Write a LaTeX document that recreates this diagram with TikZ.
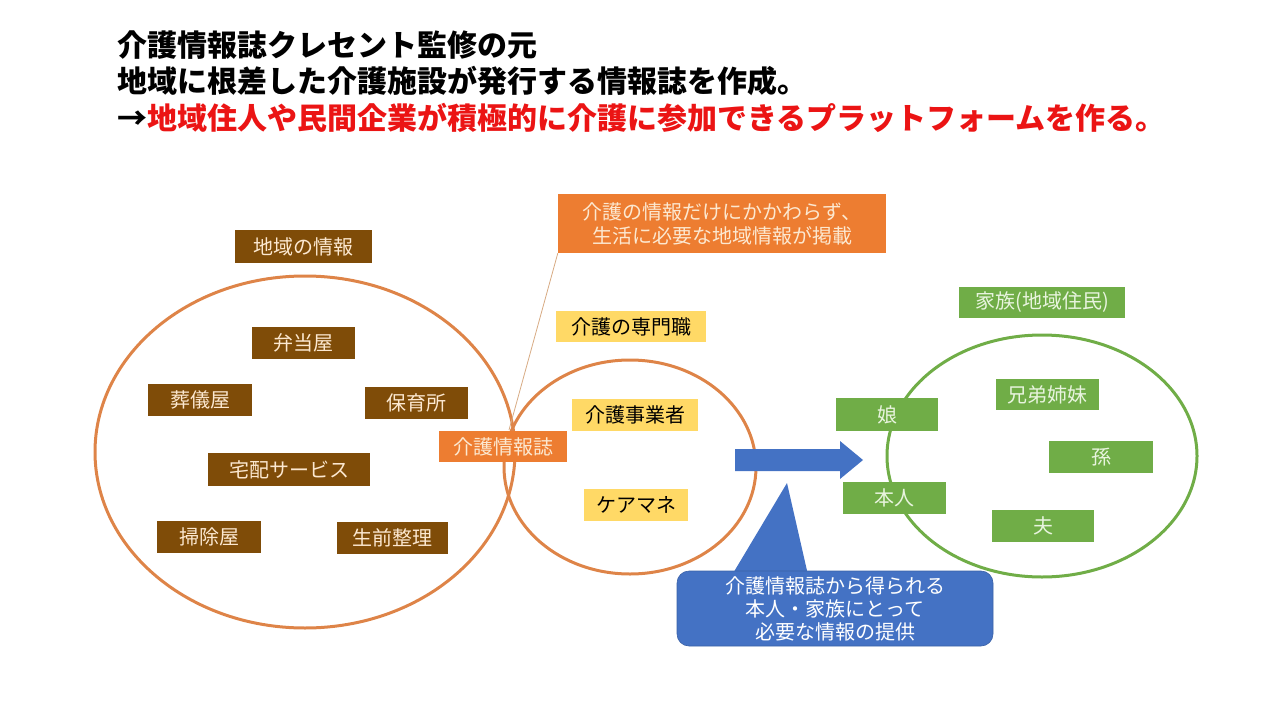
\documentclass[tikz,border=0pt]{standalone}
\usepackage{fontspec}
\newfontfamily\jp{Noto Sans CJK JP}
\definecolor{brn}{RGB}{127,76,8}
\definecolor{brntxt}{RGB}{252,232,208}
\definecolor{org}{RGB}{237,125,49}
\definecolor{orgline}{RGB}{222,132,72}
\definecolor{calline}{RGB}{215,170,130}
\definecolor{grn}{RGB}{112,173,71}
\definecolor{grntxt}{RGB}{232,244,222}
\definecolor{blu}{RGB}{68,114,196}
\definecolor{yel}{RGB}{255,217,102}
\definecolor{ttlred}{RGB}{235,20,20}
\tikzset{
  lbl/.style={rectangle, inner sep=0pt, font=\jp\fontsize{20}{23}\selectfont},
  brnbox/.style={lbl, fill=brn, text=brntxt, minimum height=32pt},
  grnbox/.style={lbl, fill=grn, text=grntxt, minimum height=32pt},
  yelbox/.style={lbl, fill=yel, text=black, minimum height=32pt},
  orgbox/.style={lbl, fill=org, text=brntxt, minimum height=32pt},
  title/.style={anchor=west, inner sep=0pt, font=\jp\bfseries\fontsize{30}{34}\selectfont}
}
\begin{document}
\begin{tikzpicture}[x=1pt,y=-1pt]
\useasboundingbox (0,0) rectangle (1280,720);
% title
\node[title] (t1) at (117,45) {介護情報誌クレセント監修の元};
\node[title] (t2) at (117,81) {地域に根差した介護施設が発行する情報誌を作成。};
\node[title] (t3) at (117,118) {→\textcolor{ttlred}{地域住人や民間企業が積極的に介護に参加できるプラットフォームを作る。}};
% circles
\draw[orgline, line width=3pt] (305,452) ellipse [x radius=210, y radius=176];
\draw[orgline, line width=3pt] (630,467) ellipse [x radius=126, y radius=107];
\draw[grn, line width=3pt] (1042,456) ellipse [x radius=155, y radius=121];
% blue arrow
\fill[blu] (735,449) -- (840,449) -- (840,441) -- (863,460) -- (840,479) -- (840,471) -- (735,471) -- cycle;
% brown boxes
\node[brnbox, minimum width=137pt, minimum height=33pt] (chiiki) at (303.5,246.5) {地域の情報};
\node[brnbox, minimum width=103pt] (bento) at (303.5,342.5) {弁当屋};
\node[brnbox, minimum width=104pt] (sogi) at (200,400) {葬儀屋};
\node[brnbox, minimum width=103pt] (hoiku) at (416.5,402.5) {保育所};
\node[brnbox, minimum width=162pt, minimum height=33pt] (takuhai) at (289,469.5) {宅配サービス};
\node[brnbox, minimum width=104pt] (soji) at (209,536.5) {掃除屋};
\node[brnbox, minimum width=111pt] (seizen) at (392.5,537.5) {生前整理};
% orange
\node[orgbox, minimum width=128pt, minimum height=31pt] (joho) at (503,446.5) {介護情報誌};
\node[orgbox, minimum width=328pt, minimum height=59pt, align=center, font=\jp\fontsize{20}{24}\selectfont] (callout) at (722,223.5) {介護の情報だけにかかわらず、\\生活に必要な地域情報が掲載};
\coordinate (tip) at (509,430);
\draw[calline, line width=0.8pt] (callout.south west) -- (tip);
% yellow
\node[yelbox, minimum width=150pt, minimum height=31pt] (senmon) at (631,326.5) {介護の専門職};
\node[yelbox, minimum width=126pt] (jigyo) at (635,415) {介護事業者};
\node[yelbox, minimum width=104pt] (keama) at (636,505) {ケアマネ};
% green
\node[grnbox, minimum width=166pt, minimum height=31pt] (kazoku) at (1042,302.5) {家族(地域住民)};
\node[grnbox, minimum width=103pt, minimum height=31pt] (kyodai) at (1047.5,394.5) {兄弟姉妹};
\node[grnbox, minimum width=102pt, minimum height=33pt] (musume) at (887,414.5) {娘};
\node[grnbox, minimum width=104pt] (mago) at (1101,457) {孫};
\node[grnbox, minimum width=103pt] (honnin) at (894.5,498) {本人};
\node[grnbox, minimum width=102pt] (otto) at (1043,526) {夫};
% blue callout
\fill[blu] (732,575) -- (787,483) -- (808,575) -- cycle;
\node[lbl, fill=blu, draw=blu!85!black, line width=0.6pt, rounded corners=12pt, minimum width=316pt, minimum height=75pt, text=white, align=center, font=\jp\fontsize{20}{23}\selectfont] (teikyo) at (835,608.5) {介護情報誌から得られる\\本人・家族にとって\\必要な情報の提供};
\end{tikzpicture}
\end{document}
